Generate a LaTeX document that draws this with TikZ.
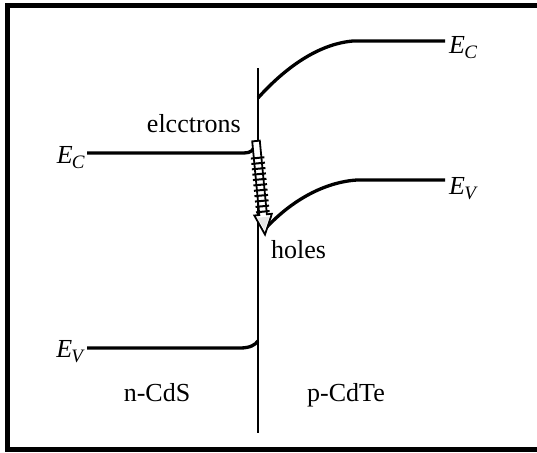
\documentclass[tikz,border=0pt]{standalone}
\usepackage{fontspec}
\setmainfont{Liberation Serif}
\newcommand\bandlbl[1]{\textit{E}\kern-0.03em\raisebox{-0.22em}{\fontsize{19}{20}\selectfont\textit{#1}}}
\begin{document}
\begin{tikzpicture}[x=1pt,y=-1pt,
  band/.style={line width=3.3pt},
  lbl/.style={font=\fontsize{26}{30}\selectfont, inner sep=0pt}]
\useasboundingbox (0,0) rectangle (537,452);
% frame (right side cropped)
\draw[line width=5pt] (537,6) -- (7,6) -- (7,449) -- (537,449);
% junction
\coordinate (jt) at (258,68);
\coordinate (jb) at (258,433);
\draw[line width=2.2pt] (jt) -- (jb);
% labels
\node[lbl,anchor=base east] (ecl) at (85,163) {\bandlbl{C}};
\node[lbl,anchor=base east] (evl) at (85,357) {\bandlbl{V}};
\node[lbl,anchor=base west] (ecr) at (449,53) {\bandlbl{C}};
\node[lbl,anchor=base west] (evr) at (449,194) {\bandlbl{V}};
\node[lbl,anchor=base east] (el) at (241,132) {elcctrons};
\node[lbl,anchor=base west] (ho) at (271,258) {holes};
\node[lbl,anchor=base] (ncds) at (157,401) {n-CdS};
\node[lbl,anchor=base] (pcdte) at (346,401) {p-CdTe};
% bands
\draw[band] (87,153) -- (244,153) .. controls (251,153) and (253,150) .. (255,146);
\draw[band] (87,348) -- (240,348) .. controls (250,348) and (255,345) .. (258,341);
\draw[band] (258,98) .. controls (285,68) and (318,44) .. (353,41) -- (445,41);
\draw[band] (266,228) .. controls (292,200) and (325,182) .. (357,180) -- (445,180);
% carrier arrow
\begin{scope}[shift={(256,141)}, rotate=5.5, line width=1.8pt]
  \filldraw[fill=white] (-3.8,0) -- (3.8,0) -- (3.8,74) -- (8.8,74) -- (0,94) -- (-8.8,74) -- (-3.8,74) -- cycle;
  \fill[gray!20] (-6,76.5) -- (6,76.5) -- (0,89) -- cycle;
  \foreach \k in {0,...,10} \draw[line width=2pt] (-6.8,{17+5.4*\k}) -- (6.8,{17+5.4*\k});
\end{scope}
\end{tikzpicture}
\end{document}
